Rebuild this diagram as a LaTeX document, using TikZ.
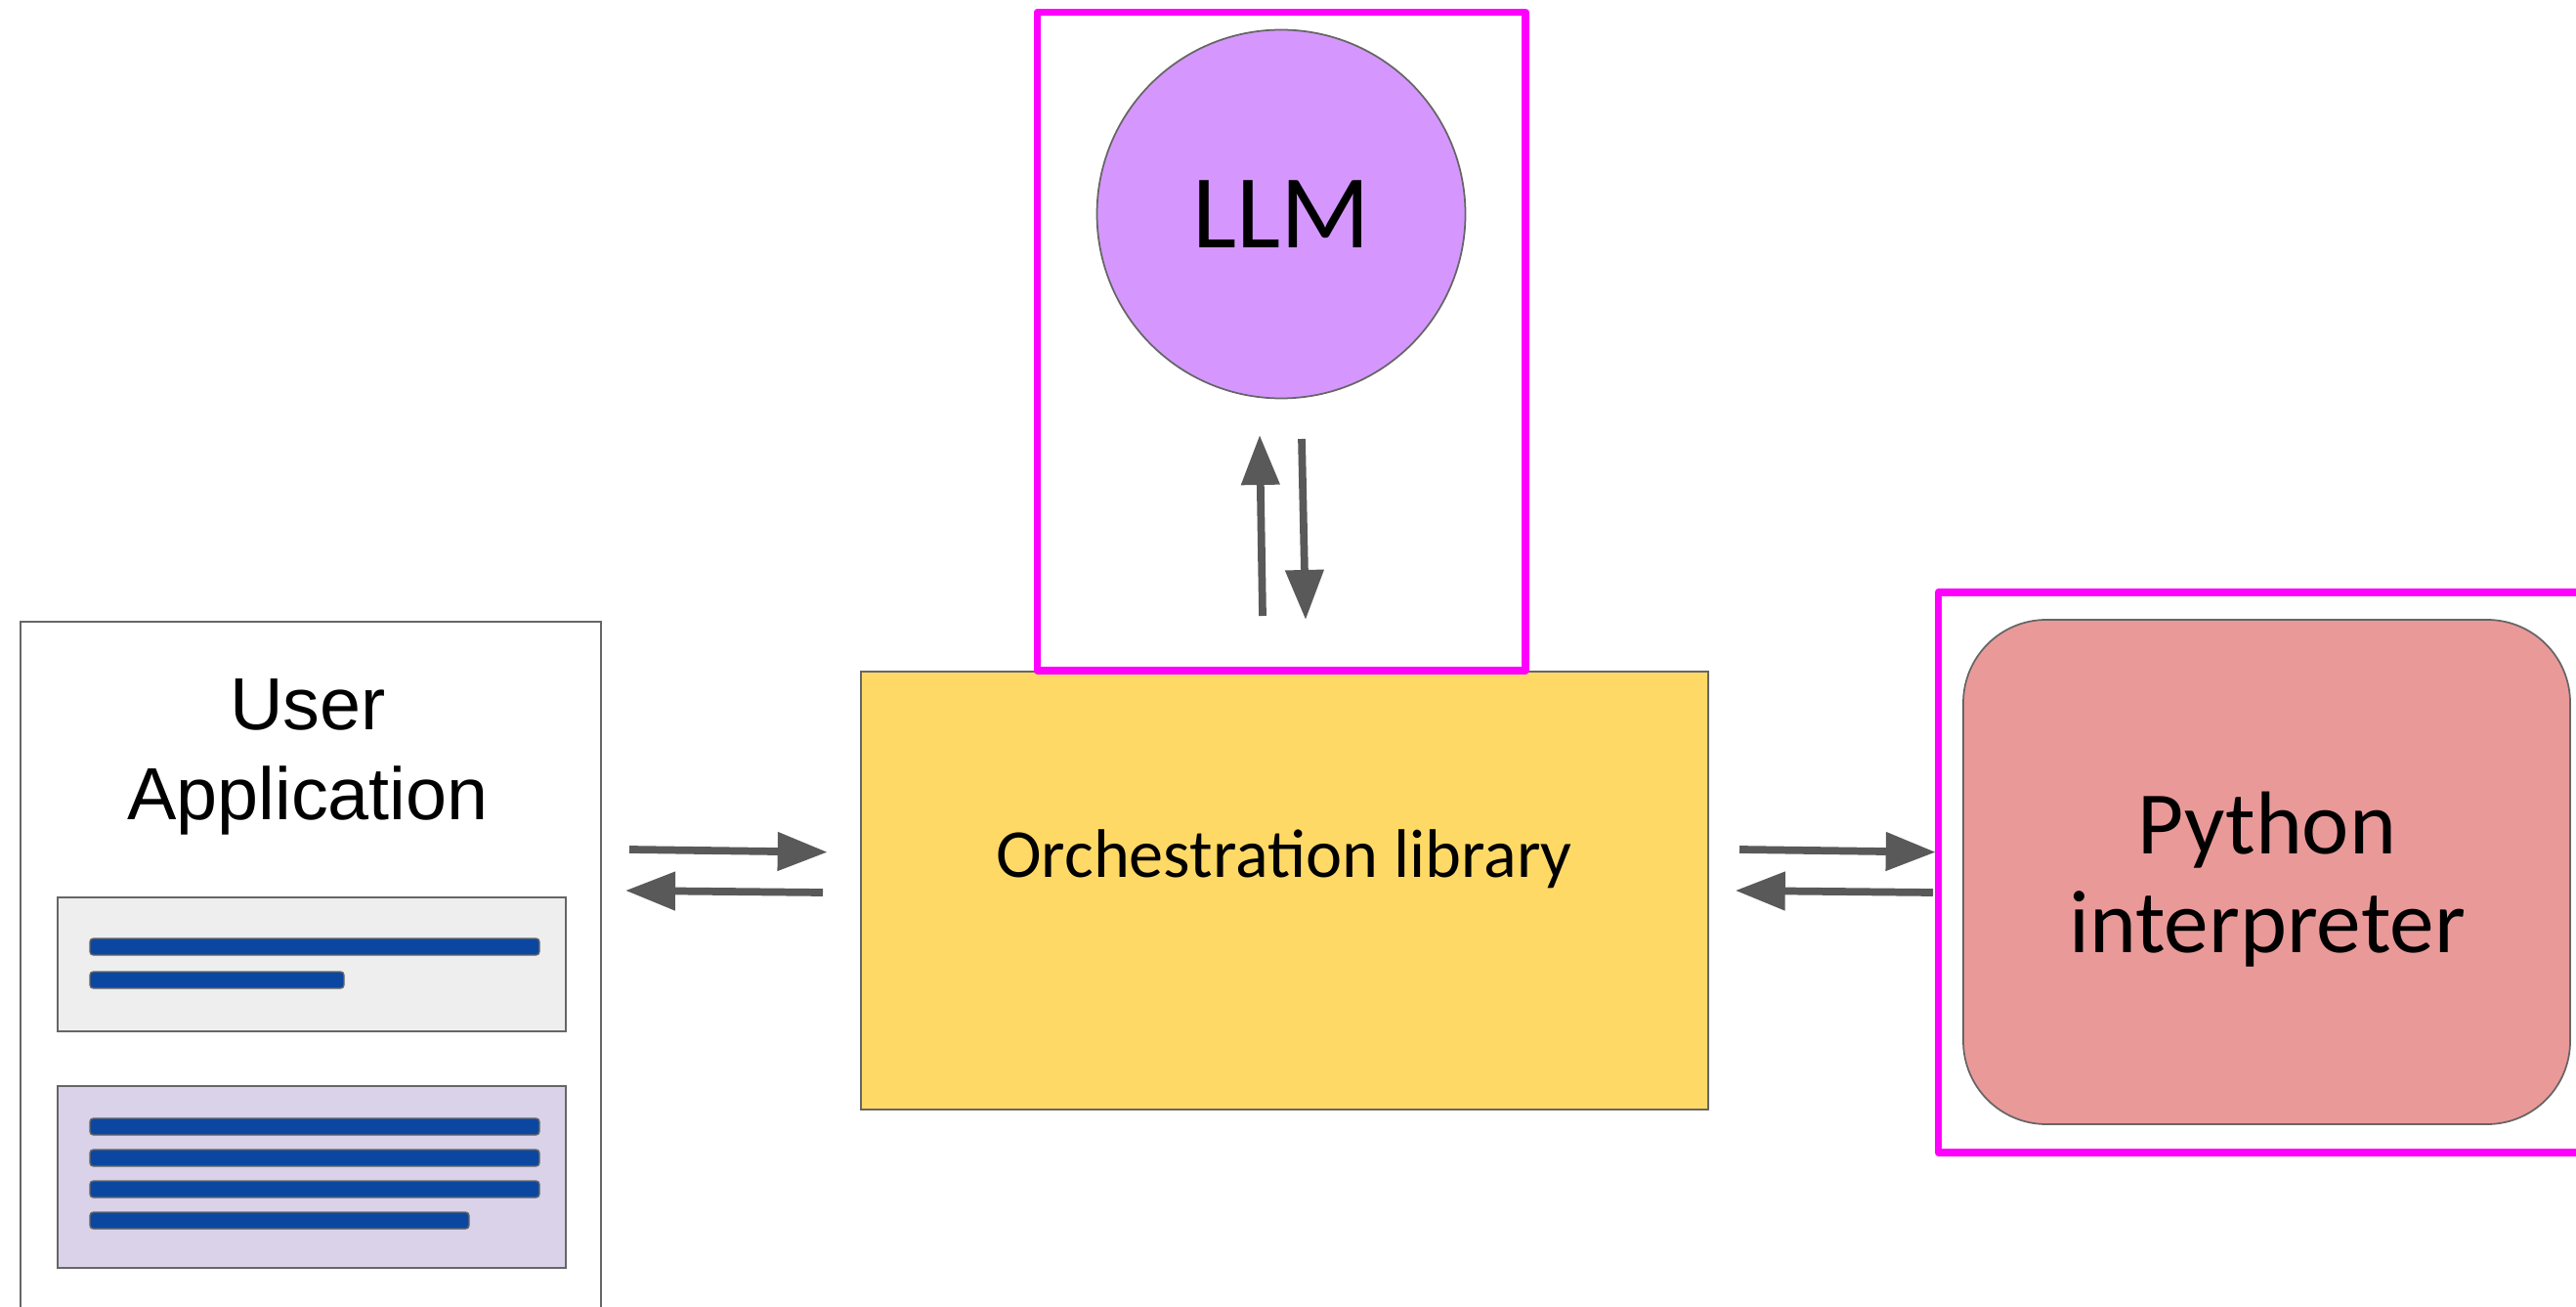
\documentclass[tikz,border=0pt]{standalone}
\usepackage{fontspec}
\setmainfont{Carlito}
\newfontfamily\arialfont{Liberation Sans}
\usepackage{tikz}
\usetikzlibrary{arrows.meta, positioning}
\usepackage{xcolor}
\definecolor{boxgray}{HTML}{666666}
\definecolor{arrowgray}{HTML}{595959}
\definecolor{framemagenta}{HTML}{FF00FF}
\definecolor{orchyellow}{HTML}{FFD966}
\definecolor{llmpurple}{HTML}{D597FD}
\definecolor{pyred}{HTML}{EA9999}
\definecolor{msggray}{HTML}{EEEEEE}
\definecolor{msglilac}{HTML}{D9D2E9}
\definecolor{barblue}{HTML}{0B47A1}

\begin{document}
\begin{tikzpicture}[
    box/.style={draw=boxgray, line width=0.5pt, inner sep=0pt},
    frame/.style={draw=framemagenta, line width=2.1pt, line join=round},
    flow/.style={draw=arrowgray, line width=2.2pt, -{Triangle[length=0.51cm, width=0.38cm]}},
    bar/.style={draw=boxgray, fill=barblue, line width=0.4pt, rounded corners=1pt}
  ]
    \useasboundingbox (0, 0) rectangle (26.36, 13.36);

    % User application panel
    \node[box, fill=white, anchor=north west, minimum width=5.94cm, minimum height=7.6cm]
      (userapp) at (0.20, 7.01) {};
    \node[font=\arialfont\fontsize{21.5}{26.2}\selectfont, align=center]
      (apptitle) at (3.15, 5.615) {User\\Application};

    % Message boxes
    \node[box, fill=msggray, anchor=south west, minimum width=5.20cm, minimum height=1.37cm]
      (msgone) at (0.58, 2.80) {};
    \node[box, fill=msglilac, anchor=south west, minimum width=5.20cm, minimum height=1.86cm]
      (msgtwo) at (0.58, 0.38) {};
    \foreach \y/\len in {3.675/4.60, 3.335/2.60, 1.835/4.60, 1.515/4.60, 1.195/4.60, 0.875/3.88}
      \draw[bar] (0.92, \y-0.085) rectangle ++(\len, 0.17);

    % Orchestration library
    \node[box, fill=orchyellow, anchor=south west, minimum width=8.67cm, minimum height=4.48cm]
      (orch) at (8.80, 2.00) {};
    \node[font=\fontsize{20}{24}\selectfont] (orchlabel) at (13.14, 4.57) {Orchestration library};

    % LLM
    \node[box, circle, fill=llmpurple, minimum size=3.77cm, font=\fontsize{30.5}{36}\selectfont]
      (llm) at (13.11, 11.17) {LLM};
    \draw[frame] (10.615, 6.50) rectangle (15.61, 13.235);

    % Python interpreter
    \node[box, fill=pyred, rounded corners=0.85cm, minimum width=6.21cm, minimum height=5.16cm]
      (python) at (23.195, 4.44) {};
    \node[font=\fontsize{26}{28.7}\selectfont, align=center]
      (pylabel) at (23.20, 4.36) {Python\\interpreter};
    \draw[frame] (19.835, 1.57) rectangle (26.70, 7.30);

    % Arrow ends
    \coordinate (appout) at (6.44, 4.67);
    \coordinate (orchin) at (8.467, 4.643);
    \coordinate (orchout) at (8.42, 4.23);
    \coordinate (appin) at (6.40, 4.25);
    \coordinate (pyreq) at (17.80, 4.67);
    \coordinate (pyin) at (19.807, 4.643);
    \coordinate (pyout) at (19.78, 4.23);
    \coordinate (pyres) at (17.757, 4.25);
    \coordinate (llmreq) at (12.92, 7.06);
    \coordinate (llmin) at (12.89, 8.91);
    \coordinate (llmout) at (13.32, 8.87);
    \coordinate (llmres) at (13.36, 7.02);

    % Arrows
    \draw[flow] (appout) -- (orchin);
    \draw[flow] (orchout) -- (appin);
    \draw[flow] (pyreq) -- (pyin);
    \draw[flow] (pyout) -- (pyres);
    \draw[flow] (llmreq) -- (llmin);
    \draw[flow] (llmout) -- (llmres);
\end{tikzpicture}
\end{document}
